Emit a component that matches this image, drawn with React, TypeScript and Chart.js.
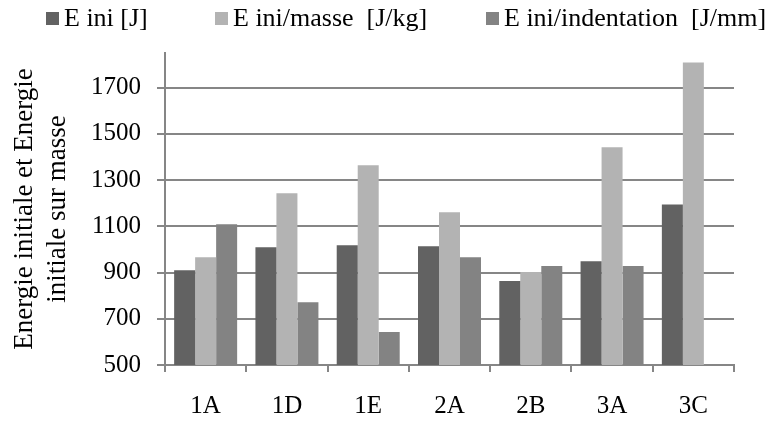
import React, { useEffect, useRef } from "react";
import { Chart, registerables } from "chart.js";

Chart.register(...registerables);

const categories = ["1A", "1D", "1E", "2A", "2B", "3A", "3C"];
const seriesNames = ["E ini [J]", "E ini/masse  [J/kg]", "E ini/indentation  [J/mm]"];
const eIni = [910, 1010, 1018, 1014, 863, 949, 1195];
const eIniMasse = [966, 1243, 1364, 1161, 902, 1442, 1809];
const eIniIndentation = [1109, 772, 643, 966, 928, 928, null];
const yTicks = [500, 700, 900, 1100, 1300, 1500, 1700];
const yTitle = ["Energie initiale et Energie", "initiale sur masse"];

const seriesValues = [eIni, eIniMasse, eIniIndentation];
const colors = ["#626262", "#b3b3b3", "#838383"];
const legendLefts = [46, 215, 486];
const FONT = "'Liberation Serif', 'Times New Roman', serif";

export default function App() {
  const ref = useRef<HTMLCanvasElement | null>(null);

  useEffect(() => {
    document.body.style.margin = "0";
    const canvas = ref.current;
    if (!canvas) return;
    const chart = new Chart(canvas, {
      type: "bar",
      data: {
        labels: categories,
        datasets: seriesValues.map((vals, i) => ({
          label: seriesNames[i],
          data: vals,
          backgroundColor: colors[i],
          borderWidth: 0,
          categoryPercentage: 0.775,
          barPercentage: 1,
        })),
      },
      options: {
        responsive: false,
        animation: false,
        devicePixelRatio: 1,
        layout: { padding: { top: 53, right: 38, left: 0, bottom: 0 } },
        plugins: {
          legend: { display: false },
          tooltip: { enabled: false },
        },
        scales: {
          x: {
            grid: {
              offset: true,
              drawOnChartArea: false,
              drawTicks: true,
              tickLength: 7,
              color: "#868686",
              lineWidth: 2,
            },
            border: { display: true, color: "#868686", width: 2 },
            ticks: {
              color: "#000",
              padding: 19,
              font: { family: FONT, size: 25 },
              maxRotation: 0,
            },
            afterFit: (s: any) => {
              s.height = 58;
            },
          },
          y: {
            min: 500,
            max: 1850,
            afterBuildTicks: (s: any) => {
              s.ticks = yTicks.map((v) => ({ value: v }));
            },
            grid: {
              color: "#868686",
              lineWidth: 2,
              drawTicks: true,
              tickLength: 8,
            },
            border: { display: true, color: "#868686", width: 2 },
            ticks: {
              color: "#000",
              padding: 16,
              font: { family: FONT, size: 25 },
              callback: (v: any) => String(v),
            },
            title: {
              display: true,
              text: yTitle,
              color: "#000",
              font: { family: FONT, size: 27, lineHeight: 1.2 },
              padding: { top: 9, bottom: 0 },
            },
            afterFit: (s: any) => {
              s.width = 165;
            },
          },
        },
      },
    });
    return () => chart.destroy();
  }, []);

  return (
    <div style={{ position: "fixed", left: 0, top: 0, width: 772, height: 423, background: "#fff" }}>
      <canvas ref={ref} width={772} height={423} style={{ display: "block" }} />
      {seriesNames.map((name, i) => (
        <div
          key={name}
          style={{
            position: "absolute",
            left: legendLefts[i],
            top: 5,
            display: "flex",
            alignItems: "center",
            fontFamily: FONT,
            fontSize: 26,
            lineHeight: "26px",
            whiteSpace: "pre",
            color: "#000",
          }}
        >
          <span style={{ display: "inline-block", width: 13, height: 13, background: colors[i], marginRight: 5 }} />
          <span>{name}</span>
        </div>
      ))}
    </div>
  );
}
